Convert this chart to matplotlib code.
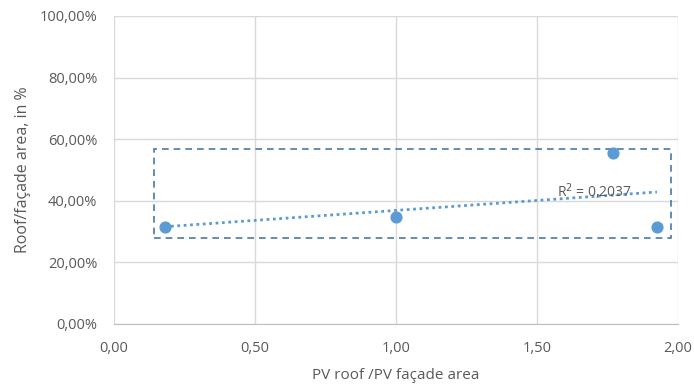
import numpy as np
import matplotlib.pyplot as plt
from matplotlib.patches import Rectangle
from matplotlib.ticker import FuncFormatter

plt.rcParams['font.family'] = ['Open Sans', 'DejaVu Sans']

# ratio PV roof / PV facade area
ratio = [0.18, 1.00, 1.77, 1.925]
# roof/facade area in %
share = [31.5, 34.7, 55.4, 31.5]
r2_text = "R$^2$ = 0,2037"

blue = '#5b9bd5'
grey = '#595959'

fig = plt.figure(figsize=(6.94, 3.88), dpi=100)
ax = fig.add_axes([0.164, 0.165, 0.813, 0.794])

ax.scatter(ratio, share, s=60, color=blue, zorder=3)

# linear trend line
k, b = np.polyfit(ratio, share, 1)
xs = np.array([min(ratio), max(ratio)])
ax.plot(xs, k * xs + b, ls=(0, (1, 1.3)), lw=2, color=blue, zorder=2)
ax.text(1.57, 42.8, r2_text, fontsize=10, color=grey, va='center', zorder=4)

# dashed frame around the points
ax.add_patch(Rectangle((0.142, 27.9), 1.975 - 0.142, 56.8 - 27.9, fill=False,
                       ls=(0, (4, 3)), lw=1.2, edgecolor='#4a78a8', zorder=2))

ax.set_xlim(0, 2)
ax.set_ylim(0, 100)
ax.set_xticks(np.arange(0, 2.01, 0.5))
ax.set_yticks(np.arange(0, 101, 20))
ax.xaxis.set_major_formatter(FuncFormatter(lambda v, p: f"{v:.2f}".replace('.', ',')))
ax.yaxis.set_major_formatter(FuncFormatter(lambda v, p: f"{v:.2f}%".replace('.', ',')))
ax.grid(True, color='#d9d9d9', lw=1)
ax.set_axisbelow(True)
for s in ['top', 'right', 'left']:
    ax.spines[s].set_visible(False)
ax.spines['bottom'].set_color('#bfbfbf')
ax.tick_params(axis='y', length=0, labelsize=10.5, colors=grey, pad=12)
ax.tick_params(axis='x', length=0, labelsize=10.5, colors=grey, pad=12)

ax.set_xlabel("PV roof /PV façade area", fontsize=11, color=grey, labelpad=9)
ax.set_ylabel("Roof/façade area, in %", fontsize=11.5, color=grey, labelpad=6)

fig.savefig('out.png', dpi=100)
